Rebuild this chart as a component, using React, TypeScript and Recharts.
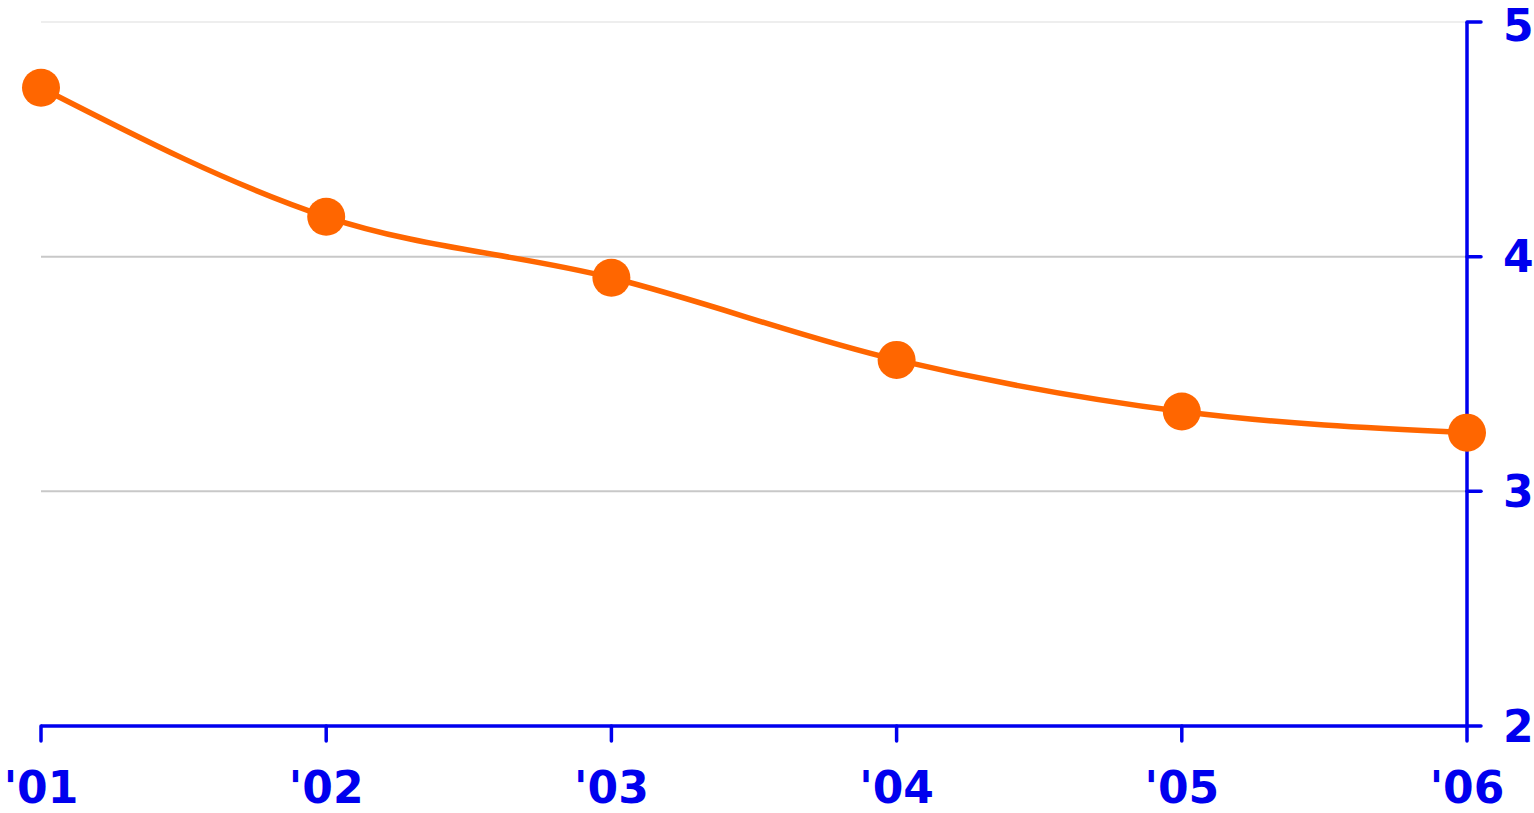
import { LineChart, Line, XAxis, YAxis, ReferenceLine } from 'recharts';

const years = ["'01", "'02", "'03", "'04", "'05", "'06"];
const values = [4.72, 4.17, 3.91, 3.56, 3.34, 3.25];
const yTicks = [2, 3, 4, 5];
const gridLines = [
  { y: 5, color: '#eeeeee' },
  { y: 4, color: '#c8c8c8' },
  { y: 3, color: '#c8c8c8' },
];

const data = years.map((year, i) => ({ year, value: values[i] }));

const BLUE = '#0000ee';
const ORANGE = '#ff6600';
const tickFont = { fill: BLUE, fontSize: 44, fontWeight: 700, fontFamily: 'DejaVu Sans, Verdana, sans-serif' };
const axisLine = { stroke: BLUE, strokeWidth: 3.5 };
const tickLine = { stroke: BLUE, strokeWidth: 3.5, strokeLinecap: 'round' as const };

export default function App() {
  return (
    <div style={{ position: 'absolute', left: 0, top: 0, background: '#fff' }}>
      <LineChart width={1534} height={813} data={data} margin={{ top: 22, right: 0, bottom: 0, left: 41 }}>
        {gridLines.map((g) => (
          <ReferenceLine key={g.y} y={g.y} stroke={g.color} strokeWidth={2} />
        ))}
        <XAxis
          dataKey="year"
          height={87}
          axisLine={axisLine}
          tickLine={tickLine}
          tickSize={15}
          tickMargin={31}
          tick={tickFont}
          interval={0}
        />
        <YAxis
          orientation="right"
          width={67}
          domain={[2, 5]}
          ticks={yTicks}
          axisLine={axisLine}
          tickLine={tickLine}
          tickSize={14}
          tickMargin={22}
          tick={tickFont}
        />
        <Line
          type="monotone"
          dataKey="value"
          stroke={ORANGE}
          strokeWidth={5.5}
          dot={{ r: 19, fill: ORANGE, stroke: 'none' }}
          isAnimationActive={false}
        />
      </LineChart>
    </div>
  );
}
